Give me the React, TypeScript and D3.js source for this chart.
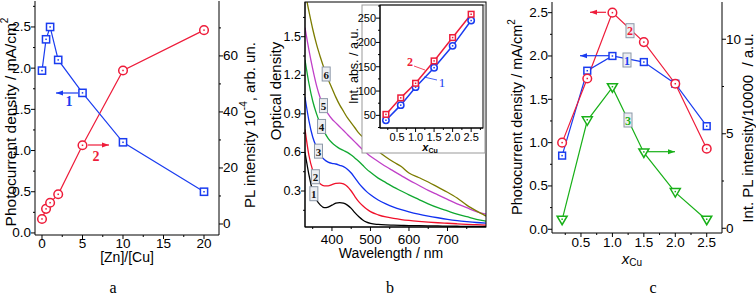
import React, { useEffect, useRef } from 'react';
import * as d3 from 'd3';

// ---------- Panel a data ----------
const A_RATIO = [0, 0.5, 1, 2, 5, 10, 20];
const A_PHOTO = [1.97, 2.35, 2.5, 2.1, 1.7, 1.1, 0.5];
const A_PL = [1.8, 5.4, 7.6, 10.6, 28.1, 54.8, 69.2];
const A_X_TICKS = [0, 5, 10, 15, 20];
const A_Y_TICKS = [0, 0.5, 1.0, 1.5, 2.0, 2.5];
const A_Y2_TICKS = [0, 20, 40, 60];

// ---------- Panel b data ----------
const WL = [330, 340, 350, 360, 370, 380, 390, 400, 410, 420, 430, 440, 450, 460, 470, 480, 490, 500, 520, 540, 560, 580, 600, 625, 650, 675, 700, 725, 750, 775, 800];
const OD1 = [0.6, 0.43, 0.3, 0.23, 0.19, 0.17, 0.175, 0.19, 0.205, 0.21, 0.205, 0.19, 0.165, 0.13, 0.1, 0.075, 0.058, 0.048, 0.04, 0.036, 0.034, 0.032, 0.031, 0.03, 0.029, 0.028, 0.027, 0.026, 0.025, 0.025, 0.024];
const OD2 = [0.78, 0.58, 0.46, 0.39, 0.355, 0.34, 0.34, 0.35, 0.36, 0.362, 0.355, 0.335, 0.3, 0.255, 0.215, 0.185, 0.16, 0.14, 0.115, 0.098, 0.087, 0.078, 0.071, 0.064, 0.058, 0.053, 0.049, 0.045, 0.041, 0.038, 0.035];
const OD3 = [1.03, 0.85, 0.72, 0.64, 0.58, 0.545, 0.525, 0.515, 0.51, 0.5, 0.49, 0.47, 0.44, 0.4, 0.36, 0.325, 0.295, 0.27, 0.23, 0.2, 0.175, 0.155, 0.138, 0.12, 0.105, 0.092, 0.08, 0.07, 0.062, 0.055, 0.05];
const OD4 = [1.32, 1.14, 1.0, 0.9, 0.82, 0.76, 0.71, 0.675, 0.65, 0.63, 0.615, 0.6, 0.58, 0.555, 0.53, 0.5, 0.47, 0.445, 0.4, 0.365, 0.33, 0.3, 0.27, 0.235, 0.2, 0.17, 0.145, 0.12, 0.1, 0.08, 0.065];
const OD5 = [1.57, 1.4, 1.25, 1.12, 1.02, 0.95, 0.9, 0.86, 0.83, 0.8, 0.77, 0.74, 0.71, 0.68, 0.65, 0.62, 0.595, 0.57, 0.53, 0.49, 0.455, 0.42, 0.385, 0.345, 0.305, 0.27, 0.235, 0.2, 0.17, 0.14, 0.12];
const OD6 = [1.85, 1.7, 1.56, 1.44, 1.34, 1.25, 1.17, 1.1, 1.03, 0.97, 0.92, 0.87, 0.83, 0.79, 0.75, 0.72, 0.69, 0.665, 0.61, 0.565, 0.525, 0.49, 0.44, 0.405, 0.37, 0.33, 0.29, 0.245, 0.19, 0.145, 0.105];
const OD_SERIES = [OD1, OD2, OD3, OD4, OD5, OD6];
const OD_COLORS = ['#000000', '#f0102a', '#1030f0', '#10a830', '#c040c8', '#7c7c00'];
const OD_LABELS = ['1', '2', '3', '4', '5', '6'];
const OD_LABEL_WL = [353, 357, 365, 373, 378, 385];
const B_X_TICKS = [400, 500, 600, 700];
const B_Y_TICKS = [0.3, 0.6, 0.9, 1.2, 1.5];

// inset
const IN_X = [0.2, 0.6, 1.0, 1.5, 2.0, 2.5];
const IN_ABS1 = [40, 71, 108, 148, 193, 245];
const IN_ABS2 = [52, 86, 116, 162, 210, 258];
const IN_X_TICKS = [0.5, 1.0, 1.5, 2.0, 2.5];
const IN_Y_TICKS = [50, 100, 150, 200, 250];

// ---------- Panel c data ----------
const C_X = [0.2, 0.6, 1.0, 1.5, 2.0, 2.5];
const C_PHOTO1 = [0.85, 1.83, 2.0, 1.93, 1.68, 1.19];
const C_PHOTO2 = [1.0, 1.74, 2.5, 2.16, 1.68, 0.93];
const C_PL = [0.44, 5.7, 7.45, 4.0, 1.9, 0.44];
const C_X_TICKS = [0.5, 1.0, 1.5, 2.0, 2.5];
const C_Y_TICKS = [0, 0.5, 1.0, 1.5, 2.0, 2.5];
const C_Y2_TICKS = [0, 5, 10];

const SANS = '"Liberation Sans", Arial, Helvetica, sans-serif';
const SERIF = '"Liberation Serif", "Times New Roman", serif';
const BLUE = '#1a3cf0';
const RED = '#ee1c3a';
const GREEN = '#18b018';
const TICK_FS = 13.5;

type Sel = d3.Selection<SVGGElement, unknown, null, undefined>;

function hAxis(g: Sel, scale: any, y: number, major: number[], minor: number[], fmt: (v: number) => string, fs: number, labY: number) {
  const [r0, r1] = scale.range();
  g.append('line').attr('x1', r0).attr('x2', r1).attr('y1', y).attr('y2', y).attr('stroke', '#000').attr('stroke-width', 1);
  major.forEach(v => {
    g.append('line').attr('x1', scale(v)).attr('x2', scale(v)).attr('y1', y).attr('y2', y + 4).attr('stroke', '#000');
    g.append('text').attr('x', scale(v)).attr('y', labY).attr('text-anchor', 'middle').attr('font-family', SANS).attr('font-size', fs).attr('dominant-baseline', 'central').text(fmt(v));
  });
  minor.forEach(v => {
    g.append('line').attr('x1', scale(v)).attr('x2', scale(v)).attr('y1', y).attr('y2', y + 2).attr('stroke', '#000');
  });
}

function vAxis(g: Sel, scale: any, x: number, side: 'left' | 'right', major: number[], minor: number[], fmt: (v: number) => string, fs: number, labX: number) {
  const [r0, r1] = scale.range();
  const dir = side === 'left' ? -1 : 1;
  g.append('line').attr('x1', x).attr('x2', x).attr('y1', r0).attr('y2', r1).attr('stroke', '#000').attr('stroke-width', 1);
  major.forEach(v => {
    g.append('line').attr('x1', x).attr('x2', x + dir * 4).attr('y1', scale(v)).attr('y2', scale(v)).attr('stroke', '#000');
    g.append('text').attr('x', labX).attr('y', scale(v)).attr('text-anchor', side === 'left' ? 'end' : 'start').attr('dominant-baseline', 'central').attr('font-family', SANS).attr('font-size', fs).text(fmt(v));
  });
  minor.forEach(v => {
    g.append('line').attr('x1', x).attr('x2', x + dir * 2).attr('y1', scale(v)).attr('y2', scale(v)).attr('stroke', '#000');
  });
}

function vTitle(g: Sel, x: number, y: number, fs: number, build: (t: any) => void) {
  const t = g.append('text').attr('transform', `translate(${x},${y}) rotate(-90)`).attr('text-anchor', 'middle').attr('dominant-baseline', 'central').attr('font-family', SANS).attr('font-size', fs);
  build(t);
}

function sq(g: Sel, cx: number, cy: number, h: number, color: string) {
  g.append('rect').attr('x', cx - h).attr('y', cy - h).attr('width', 2 * h).attr('height', 2 * h).attr('fill', '#fff').attr('stroke', color).attr('stroke-width', 1.5);
  g.append('rect').attr('x', cx - 0.75).attr('y', cy - 0.75).attr('width', 1.5).attr('height', 1.5).attr('fill', color);
}
function circ(g: Sel, cx: number, cy: number, r: number, color: string) {
  g.append('circle').attr('cx', cx).attr('cy', cy).attr('r', r).attr('fill', '#fff').attr('stroke', color).attr('stroke-width', 1.5);
  g.append('rect').attr('x', cx - 0.75).attr('y', cy - 0.75).attr('width', 1.5).attr('height', 1.5).attr('fill', color);
}
function tri(g: Sel, cx: number, cy: number, s: number, color: string) {
  const p = [[cx - s, cy - s * 0.75], [cx + s, cy - s * 0.75], [cx, cy + s * 0.95]];
  g.append('polygon').attr('points', p.map(q => q.join(',')).join(' ')).attr('fill', '#fff').attr('stroke', color).attr('stroke-width', 1.5);
  g.append('rect').attr('x', cx - 0.75).attr('y', cy - 1.5).attr('width', 1.5).attr('height', 1.5).attr('fill', color);
}
function arrow(g: Sel, x1: number, x2: number, y: number, color: string) {
  g.append('line').attr('x1', x1).attr('x2', x2).attr('y1', y).attr('y2', y).attr('stroke', color).attr('stroke-width', 1.2);
  const d = x2 > x1 ? 1 : -1;
  g.append('polygon').attr('points', `${x2},${y} ${x2 - d * 7},${y - 2.5} ${x2 - d * 7},${y + 2.5}`).attr('fill', color);
}
function tag(g: Sel, cx: number, cy: number, w: number, h: number, txt: string, color: string, fs: number) {
  g.append('rect').attr('x', cx - w / 2).attr('y', cy - h / 2).attr('width', w).attr('height', h).attr('fill', '#eceef2').attr('stroke', '#8c98a8').attr('stroke-width', 1);
  g.append('text').attr('x', cx).attr('y', cy + 0.5).attr('text-anchor', 'middle').attr('dominant-baseline', 'central').attr('font-family', SERIF).attr('font-weight', 'bold').attr('font-size', fs).attr('fill', color).text(txt);
}

export default function App() {
  const ref = useRef<SVGSVGElement>(null);
  useEffect(() => {
    const svg = d3.select(ref.current!);
    svg.selectAll('*').remove();
    const root = svg.append('g') as unknown as Sel;
    const f1 = (v: number) => v.toFixed(1);
    const f0 = (v: number) => String(v);

    // ===================== Panel a =====================
    {
      const g = root.append('g') as Sel;
      const x = d3.scaleLinear().domain([-0.864, 21.85]).range([35, 219]);
      const y = d3.scaleLinear().domain([-0.025, 2.815]).range([235, 1]);
      const y2 = d3.scaleLinear().domain([-3.93, 79.6]).range([235, 1]);
      hAxis(g, x, 235, A_X_TICKS, [2.5, 7.5, 12.5, 17.5], f0, TICK_FS, 243);
      vAxis(g, y, 35, 'left', A_Y_TICKS, [0.25, 0.75, 1.25, 1.75, 2.25, 2.75], f1, TICK_FS, 31);
      vAxis(g, y2, 219, 'right', A_Y2_TICKS, [10, 30, 50, 70], f0, TICK_FS, 223);
      const lineP = d3.line<number>().x((_, i) => x(A_RATIO[i])).y(v => y(v));
      const lineL = d3.line<number>().x((_, i) => x(A_RATIO[i])).y(v => y2(v));
      g.append('path').attr('d', lineL(A_PL)!).attr('fill', 'none').attr('stroke', RED).attr('stroke-width', 1.2);
      g.append('path').attr('d', lineP(A_PHOTO)!).attr('fill', 'none').attr('stroke', BLUE).attr('stroke-width', 1.2);
      A_PL.forEach((v, i) => circ(g, x(A_RATIO[i]), y2(v), 4.3, RED));
      A_PHOTO.forEach((v, i) => sq(g, x(A_RATIO[i]), y(v), 3.6, BLUE));
      arrow(g, 78, 56, 93, BLUE);
      g.append('text').attr('x', 69).attr('y', 101).attr('text-anchor', 'middle').attr('dominant-baseline', 'central').attr('font-family', SERIF).attr('font-weight', 'bold').attr('font-size', 14).attr('fill', BLUE).text('1');
      arrow(g, 88, 109, 145, RED);
      g.append('text').attr('x', 96).attr('y', 156).attr('text-anchor', 'middle').attr('dominant-baseline', 'central').attr('font-family', SERIF).attr('font-weight', 'bold').attr('font-size', 14).attr('fill', RED).text('2');
      vTitle(g, 10, 122, 15.5, t => { t.append('tspan').text('Photocurrent density / mA/cm'); t.append('tspan').attr('dy', -6).attr('font-size', 10).text('2'); });
      vTitle(g, 249, 125, 15, t => { t.append('tspan').text('PL intensity 10'); t.append('tspan').attr('dy', -6).attr('font-size', 10).text('-4'); t.append('tspan').attr('dy', 6).text(', arb. un.'); });
      g.append('text').attr('x', 127).attr('y', 257).attr('text-anchor', 'middle').attr('dominant-baseline', 'central').attr('font-family', SANS).attr('font-size', 14).text('[Zn]/[Cu]');
      g.append('text').attr('x', 113).attr('y', 287).attr('text-anchor', 'middle').attr('dominant-baseline', 'central').attr('font-family', SERIF).attr('font-size', 16).text('a');
    }

    // ===================== Panel b =====================
    {
      const g = root.append('g') as Sel;
      const x = d3.scaleLinear().domain([330, 800]).range([305, 486]);
      const y = d3.scaleLinear().domain([0.02, 1.77]).range([227, 2]);
      svg.append('defs').append('clipPath').attr('id', 'clipb').append('rect').attr('x', 305).attr('y', 2).attr('width', 181).attr('height', 225);
      const cg = g.append('g').attr('clip-path', 'url(#clipb)');
      OD_SERIES.forEach((s, k) => {
        const ln = d3.line<number>().x((_, i) => x(WL[i])).y(v => y(v)).curve(d3.curveMonotoneX);
        cg.append('path').attr('d', ln(s)!).attr('fill', 'none').attr('stroke', OD_COLORS[k]).attr('stroke-width', 1.3);
      });
      g.append('rect').attr('x', 305).attr('y', 2).attr('width', 181).attr('height', 225).attr('fill', 'none').attr('stroke', '#000');
      hAxis(g, x, 227, B_X_TICKS, [350, 450, 550, 650, 750], f0, TICK_FS, 239);
      vAxis(g, y, 305, 'left', B_Y_TICKS, [0.15, 0.45, 0.75, 1.05, 1.35, 1.65], f1, 12.5, 301);
      OD_LABELS.forEach((l, k) => {
        const idx = d3.bisectLeft(WL, OD_LABEL_WL[k]);
        const wl = OD_LABEL_WL[k];
        const v = d3.scaleLinear().domain([WL[idx - 1], WL[idx]]).range([OD_SERIES[k][idx - 1], OD_SERIES[k][idx]])(wl);
        tag(g, x(wl), y(v), 8, 14, l, '#111', 11);
      });
      vTitle(g, 275, 91, 15, t => t.text('Optical density'));
      g.append('text').attr('x', 391).attr('y', 253).attr('text-anchor', 'middle').attr('dominant-baseline', 'central').attr('font-family', SANS).attr('font-size', 14).text('Wavelength / nm');
      g.append('text').attr('x', 390).attr('y', 287).attr('text-anchor', 'middle').attr('dominant-baseline', 'central').attr('font-family', SERIF).attr('font-size', 16).text('b');

      // inset
      const ig = g.append('g') as Sel;
      ig.append('rect').attr('x', 362).attr('y', 5).attr('width', 123).attr('height', 148).attr('fill', '#fff').attr('stroke', '#999').attr('stroke-width', 1);
      const ix = d3.scaleLinear().domain([0.04, 2.82]).range([380, 483]);
      const iy = d3.scaleLinear().domain([24, 277]).range([128, 5]);
      ig.append('rect').attr('x', 380).attr('y', 5).attr('width', 103).attr('height', 123).attr('fill', 'none').attr('stroke', '#000');
      hAxis(ig, ix, 128, IN_X_TICKS, [0.25, 0.75, 1.25, 1.75, 2.25, 2.75], f1, 11, 137);
      vAxis(ig, iy, 380, 'left', IN_Y_TICKS, [25, 75, 125, 175, 225, 275], f0, 11, 376);
      const l1 = d3.line<number>().x((_, i) => ix(IN_X[i])).y(v => iy(v));
      ig.append('path').attr('d', l1(IN_ABS2)!).attr('fill', 'none').attr('stroke', RED).attr('stroke-width', 1.5);
      ig.append('path').attr('d', l1(IN_ABS1)!).attr('fill', 'none').attr('stroke', BLUE).attr('stroke-width', 1.5);
      IN_ABS1.forEach((v, i) => circ(ig, ix(IN_X[i]), iy(v), 3.2, BLUE));
      IN_ABS2.forEach((v, i) => sq(ig, ix(IN_X[i]), iy(v), 2.8, RED));
      ig.append('line').attr('x1', 414).attr('y1', 66).attr('x2', 425).attr('y2', 70).attr('stroke', RED).attr('stroke-width', 0.8);
      ig.append('text').attr('x', 410).attr('y', 62).attr('text-anchor', 'middle').attr('dominant-baseline', 'central').attr('font-family', SERIF).attr('font-weight', 'bold').attr('font-size', 12).attr('fill', RED).text('2');
      ig.append('line').attr('x1', 437).attr('y1', 80).attr('x2', 424).attr('y2', 77).attr('stroke', BLUE).attr('stroke-width', 0.8);
      ig.append('text').attr('x', 442).attr('y', 82).attr('text-anchor', 'middle').attr('dominant-baseline', 'central').attr('font-family', SERIF).attr('font-size', 13).attr('fill', BLUE).text('1');
      vTitle(ig, 354, 66, 12.5, t => t.text('Int. abs. / a.u.'));
      const xt = ig.append('text').attr('x', 430).attr('y', 147).attr('text-anchor', 'middle').attr('dominant-baseline', 'central').attr('font-family', SANS).attr('font-weight', 'bold').attr('font-style', 'italic').attr('font-size', 11);
      xt.append('tspan').text('x');
      xt.append('tspan').attr('dy', 3).attr('font-size', 7).attr('font-style', 'normal').text('Cu');
    }

    // ===================== Panel c =====================
    {
      const g = root.append('g') as Sel;
      const x = d3.scaleLinear().domain([0.039, 2.743]).range([552, 722]);
      const y = d3.scaleLinear().domain([-0.043, 2.623]).range([233, 2]);
      const y2 = d3.scaleLinear().domain([-0.25, 11.97]).range([233, 2]);
      hAxis(g, x, 233, C_X_TICKS, [0.25, 0.75, 1.25, 1.75, 2.25], f1, TICK_FS, 242);
      vAxis(g, y, 552, 'left', C_Y_TICKS, [0.25, 0.75, 1.25, 1.75, 2.25], f1, TICK_FS, 548);
      vAxis(g, y2, 722, 'right', C_Y2_TICKS, [2.5, 7.5], f0, TICK_FS, 726);
      const lp = d3.line<number>().x((_, i) => x(C_X[i])).y(v => y(v));
      const ll = d3.line<number>().x((_, i) => x(C_X[i])).y(v => y2(v));
      g.append('path').attr('d', ll(C_PL)!).attr('fill', 'none').attr('stroke', GREEN).attr('stroke-width', 1.2);
      g.append('path').attr('d', lp(C_PHOTO1)!).attr('fill', 'none').attr('stroke', BLUE).attr('stroke-width', 1.2);
      g.append('path').attr('d', lp(C_PHOTO2)!).attr('fill', 'none').attr('stroke', RED).attr('stroke-width', 1.2);
      C_PL.forEach((v, i) => tri(g, x(C_X[i]), y2(v), 5, GREEN));
      C_PHOTO1.forEach((v, i) => sq(g, x(C_X[i]), y(v), 3.4, BLUE));
      C_PHOTO2.forEach((v, i) => circ(g, x(C_X[i]), y(v), 4.3, RED));
      arrow(g, 606, 590, 12.3, RED);
      arrow(g, 609, 580, 55.7, BLUE);
      arrow(g, 648, 675, 151.7, GREEN);
      tag(g, 630, 30.7, 8, 14, '2', RED, 12);
      tag(g, 627, 60, 8, 14, '1', BLUE, 12);
      tag(g, 628, 120, 8, 14, '3', GREEN, 12);
      vTitle(g, 517, 117, 14.5, t => { t.append('tspan').text('Photocurrent density / mA/cm'); t.append('tspan').attr('dy', -6).attr('font-size', 10).text('2'); });
      vTitle(g, 747, 128, 15, t => t.text('Int. PL intensity/10000  / a.u.').style('white-space', 'pre'));
      const xt = g.append('text').attr('x', 632).attr('y', 258).attr('text-anchor', 'middle').attr('dominant-baseline', 'central').attr('font-family', SANS).attr('font-style', 'italic').attr('font-size', 15);
      xt.append('tspan').text('x');
      xt.append('tspan').attr('dy', 4).attr('font-size', 10).attr('font-style', 'normal').text('Cu');
      g.append('text').attr('x', 653).attr('y', 287).attr('text-anchor', 'middle').attr('dominant-baseline', 'central').attr('font-family', SERIF).attr('font-size', 16).text('c');
    }
  }, []);
  return <svg ref={ref} width={756} height={295} style={{ position: 'absolute', left: 0, top: 0, background: '#fff' }} />;
}
